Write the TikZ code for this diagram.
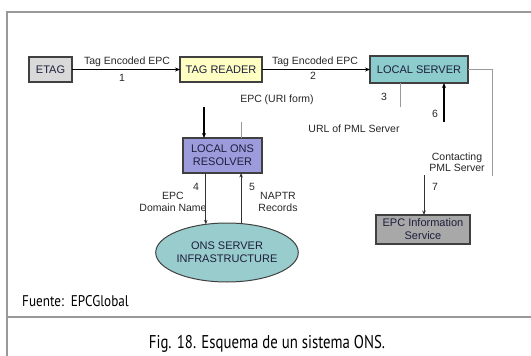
\documentclass[tikz,border=0pt]{standalone}
\usepackage{fontspec}
\setmainfont{Liberation Sans}
\newfontfamily\capfont[FakeStretch=0.8]{PT Sans}
\newfontfamily\srcfont[FakeStretch=0.85]{PT Sans}
\usetikzlibrary{arrows.meta,shapes.geometric}
\definecolor{framegray}{HTML}{999999}
\definecolor{boxedge}{HTML}{404040}
\definecolor{etagfill}{HTML}{D9D9D9}
\definecolor{readerfill}{HTML}{FFFFC4}
\definecolor{serverfill}{HTML}{8CCCCC}
\definecolor{resolverfill}{HTML}{9C9CDC}
\definecolor{onsfill}{HTML}{99CCCC}
\definecolor{infofill}{HTML}{A8A8A8}
\definecolor{boxtext}{HTML}{1E1E3C}
\tikzset{
  box/.style={draw=boxedge, line width=1.3pt, inner sep=0pt, outer sep=0pt, align=center,
    text=boxtext, font=\fontsize{11}{13}\selectfont},
  lbl/.style={inner sep=0pt, align=center, text=black!85, font=\fontsize{10.5}{11.5}\selectfont},
  thickarrow/.style={line width=1.6pt, -{Stealth[length=5pt,width=4pt]}},
  thinarrow/.style={line width=0.9pt, draw=black!80, -{Stealth[length=4.5pt,width=3.5pt]}},
  grayline/.style={line width=1pt, draw=framegray},
  frameline/.style={line width=1.5pt, draw=framegray},
}
\begin{document}
\begin{tikzpicture}[x=1pt,y=-1pt]
\useasboundingbox (0,0) rectangle (531,356);
% frame
\coordinate (ftl) at (7,12);
\coordinate (ftr) at (531,12);
\coordinate (fbl) at (7,356);
\coordinate (fsl) at (7,317);
\coordinate (fsr) at (531,317);
\draw[frameline] (fbl) -- (ftl) -- (ftr);
\draw[frameline] (fsl) -- (fsr);
% boxes
\node[box, fill=etagfill, minimum width=43pt, minimum height=25pt] (etag) at (50.5,69.5) {ETAG};
\node[box, fill=readerfill, minimum width=82pt, minimum height=25pt] (reader) at (221,69.5) {TAG READER};
\node[box, fill=serverfill, minimum width=98pt, minimum height=27pt] (server) at (419,69.5) {LOCAL SERVER};
\node[box, fill=resolverfill, minimum width=79pt, minimum height=35pt] (resolver) at (222.5,155.5) {LOCAL ONS\\RESOLVER};
\node[box, ellipse, line width=1pt, fill=onsfill, minimum width=133pt, minimum height=59pt] (ons) at (227,252.5) {ONS SERVER\\INFRASTRUCTURE};
\node[box, fill=infofill, minimum width=94pt, minimum height=29pt] (info) at (423,229.5) {EPC Information\\Service};
% labels
\node[lbl] (l1a) at (127,62) {Tag Encoded EPC};
\node[lbl] (l1b) at (122,78) {1};
\node[lbl] (l2a) at (315,62) {Tag Encoded EPC};
\node[lbl] (l2b) at (313,76) {2};
\node[lbl] (luri) at (277,100) {EPC (URI form)};
\node[lbl] (l3) at (384,97) {3};
\node[lbl] (l6) at (435,114) {6};
\node[lbl] (lurl) at (354,129) {URL of PML Server};
\node[lbl] (lcont) at (457,162) {Contacting\\PML Server};
\node[lbl] (l7) at (435,187) {7};
\node[lbl] (l4) at (196,187) {4};
\node[lbl] (l5) at (252,187) {5};
\node[lbl] (ldom) at (173,202) {EPC\\Domain Name};
\node[lbl] (lnap) at (278,202) {NAPTR\\Records};
% free ends
\coordinate (c3) at (400,107);
\coordinate (c6) at (444,122);
\coordinate (cr1) at (492,69.5);
\coordinate (cr2) at (492,176);
\coordinate (c7) at (424,175);
\coordinate (cd) at (204,107);
\coordinate (cg) at (241,122);
% connectors
\draw[thickarrow] (etag.east) -- (reader.west);
\draw[thickarrow] (reader.east) -- (server.west);
\draw[grayline] (server.south -| c3) -- (c3);
\draw[thickarrow] (c6) -- (c6 |- server.south);
\draw[grayline] (server.east) -- (cr1) -- (cr2);
\draw[thinarrow] (c7) -- (c7 |- info.north);
\draw[thickarrow] (cd) -- (cd |- resolver.north);
\draw[grayline] (cg) -- (cg |- resolver.north);
\draw[thinarrow] (ons.127 |- resolver.south) -- (ons.127);
\draw[thinarrow] (ons.64) -- (ons.64 |- resolver.south);
% source and caption
\node[inner sep=0pt, anchor=base west, font=\srcfont\fontsize{15.5}{17}\selectfont] (src) at (22,306) {Fuente:\ \ EPCGlobal};
\node[inner sep=0pt, anchor=base, font=\capfont\fontsize{18.5}{21}\selectfont] (cap) at (267,348) {Fig. 18. Esquema de un sistema ONS.};
\end{tikzpicture}
\end{document}
